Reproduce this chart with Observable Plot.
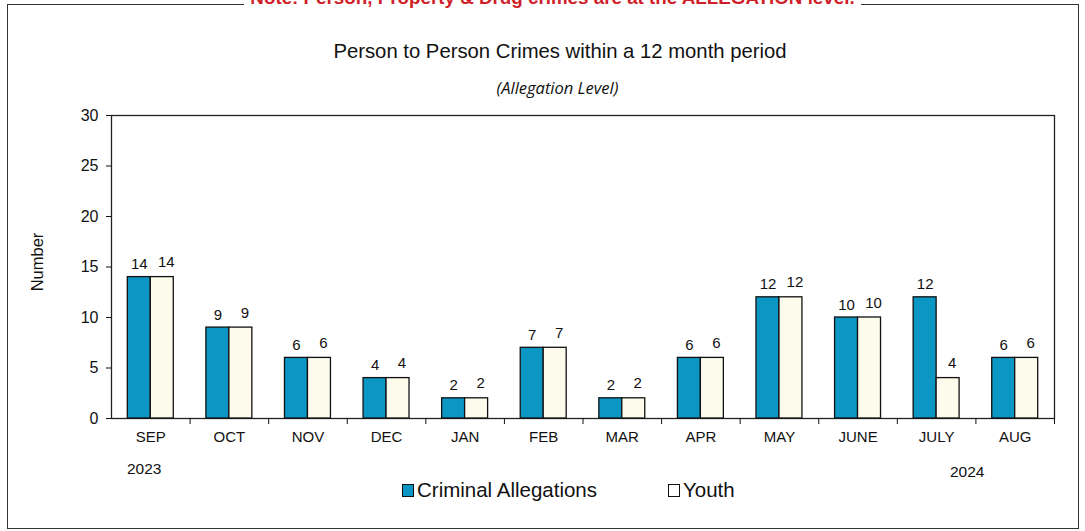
<!DOCTYPE html>
<html>
<head>
<meta charset="utf-8">
<script src="https://cdn.jsdelivr.net/npm/d3@7"></script>
<script src="https://cdn.jsdelivr.net/npm/@observablehq/plot@0.6"></script>
<style>
  html, body { margin: 0; padding: 0; background: #fff; }
  #wrap { position: relative; width: 1085px; height: 531px; overflow: hidden; font-family: "Liberation Sans", Arial, sans-serif; color: #111; }
  #border { position: absolute; left: 7px; top: 4px; width: 1072px; height: 525px; border: 1.5px solid #333; box-sizing: border-box; }
  #note { position: absolute; left: 0; width: 1105px; text-align: center; top: -13px; color: #d01f2a; font-size: 18.8px; font-weight: bold; white-space: nowrap; }
  #note span { background: #fff; padding: 0 6px; }
  #title { position: absolute; left: 0; width: 1120px; text-align: center; top: 40px; font-size: 20.3px; }
  #subtitle { position: absolute; left: 0; width: 1115px; text-align: center; top: 76px; font-size: 16.5px; font-style: italic; font-family: "Open Sans", sans-serif; }
  #chart { position: absolute; left: 0; top: 95px; }
  .year { position: absolute; font-size: 15.5px; }
  #legend { position: absolute; top: 478px; left: 0; width: 1085px; font-size: 20.5px; }
  .li { position: absolute; display: flex; align-items: center; }
  .sw { width: 10px; height: 11px; border: 1px solid #111; margin-right: 3px; }
</style>
</head>
<body>
<div id="wrap">
  <div id="border"></div>
  <div id="note"><span>Note: Person, Property &amp; Drug crimes are at the ALLEGATION level.</span></div>
  <div id="title">Person to Person Crimes within a 12 month period</div>
  <div id="subtitle">(Allegation Level)</div>
  <div id="chart"></div>
  <div class="year" style="left:127px; top:460px;">2023</div>
  <div class="year" style="left:950px; top:463px;">2024</div>
  <div id="legend"></div>
</div>
<script>
const months = ["SEP","OCT","NOV","DEC","JAN","FEB","MAR","APR","MAY","JUNE","JULY","AUG"];
const seriesNames = ["Criminal Allegations", "Youth"];
const criminalAllegations = [14, 9, 6, 4, 2, 7, 2, 6, 12, 10, 12, 6];
const youth = [14, 9, 6, 4, 2, 7, 2, 6, 12, 10, 4, 6];
const yTicks = [0, 5, 10, 15, 20, 25, 30];
const colors = ["#0c96c3", "#fdfbeb"];

const data = [];
months.forEach((m, i) => {
  data.push({month: m, series: seriesNames[0], value: criminalAllegations[i]});
  data.push({month: m, series: seriesNames[1], value: youth[i]});
});

const W = 1085, H = 360;
const mL = 111, mR = 31, mT = 20, mB = 37;
const band = (W - mL - mR) / months.length;

const chart = Plot.plot({
  width: W,
  height: H,
  marginLeft: mL,
  marginRight: mR,
  marginTop: mT,
  marginBottom: mB,
  style: {fontFamily: "'Liberation Sans', Arial, sans-serif", fontSize: "15px", color: "#111", background: "transparent"},
  fx: {domain: months, paddingInner: 0, paddingOuter: 0, round: false, label: null},
  x: {domain: seriesNames, paddingInner: 0, paddingOuter: 0.71, round: false, axis: null},
  y: {domain: [0, 30], label: null},
  color: {domain: seriesNames, range: colors},
  marks: [
    Plot.frame({facet: "super", stroke: "#222", strokeWidth: 1.3}),
    Plot.barY(data, {fx: "month", x: "series", y: "value", fill: "series", stroke: "#111", strokeWidth: 1.3}),
    Plot.text(data.filter(d => d.series === seriesNames[0]), {fx: "month", x: "series", y: "value", text: d => String(d.value), dy: -8, lineAnchor: "bottom", fontSize: 15, fill: "#111"}),
    Plot.text(data.filter(d => d.series === seriesNames[1]), {fx: "month", x: "series", y: "value", text: d => String(d.value), dx: 4, dy: -10, lineAnchor: "bottom", fontSize: 15, fill: "#111"}),
    Plot.axisY({ticks: yTicks, tickSize: 5, tickPadding: 8, fontSize: 16, label: null}),
    Plot.axisFx({anchor: "bottom", tickSize: 0, tickPadding: 13, fontSize: 15, label: null}),
    Plot.axisFx({anchor: "bottom", tickSize: 6, tickFormat: () => "", dx: band / 2, label: null})
  ]
});
document.getElementById("chart").appendChild(chart);

// y-axis title
const svgLabel = d3.select("#wrap").append("svg")
  .attr("width", 60).attr("height", 531)
  .style("position", "absolute").style("left", "0px").style("top", "0px");
svgLabel.append("text")
  .attr("transform", "translate(43,262) rotate(-90)")
  .attr("text-anchor", "middle")
  .style("font-family", "'Liberation Sans', Arial, sans-serif")
  .style("font-size", "16.5px")
  .attr("fill", "#111")
  .text("Number");

// legend
const legend = document.getElementById("legend");
const legendPos = [402, 668];
seriesNames.forEach((s, i) => {
  const item = document.createElement("div");
  item.className = "li";
  item.style.left = legendPos[i] + "px";
  const sw = document.createElement("div");
  sw.className = "sw";
  sw.style.background = i === 0 ? colors[0] : "#ffffff";
  const t = document.createElement("span");
  t.textContent = s;
  item.appendChild(sw);
  item.appendChild(t);
  legend.appendChild(item);
});
</script>
</body>
</html>
